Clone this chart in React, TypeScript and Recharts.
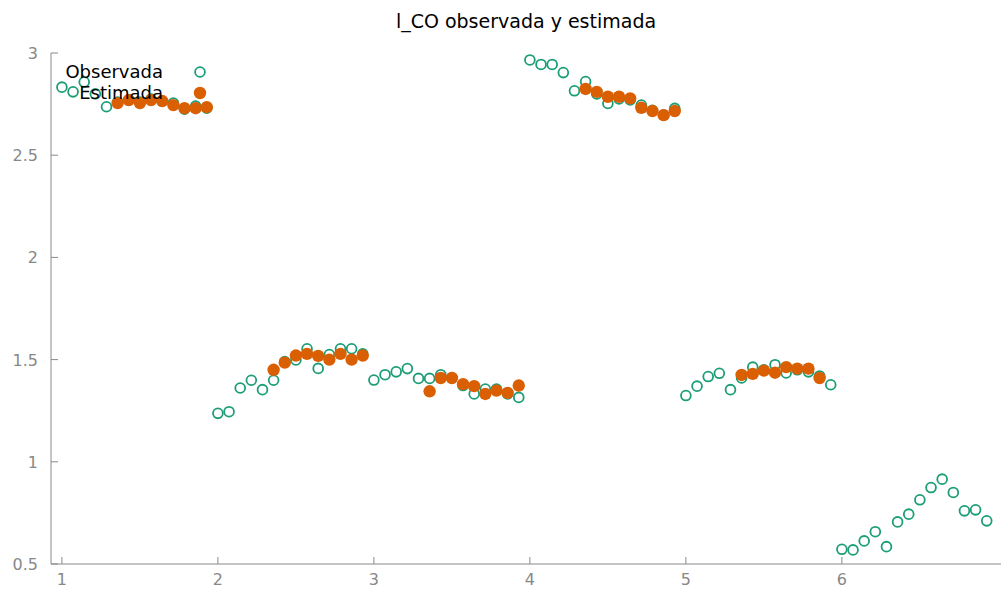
import React from "react";
import { ScatterChart, Scatter, XAxis, YAxis } from "recharts";

// panel units 1..6, 14 periods each
const units = [1, 2, 3, 4, 5, 6];
const periods = 14;

const observed1 = [2.833, 2.81, 2.858, 2.8, 2.737, 2.76, 2.77, 2.76, 2.775, 2.765, 2.755, 2.725, 2.74, 2.73];
const observed2 = [1.237, 1.245, 1.361, 1.399, 1.353, 1.399, 1.49, 1.498, 1.553, 1.457, 1.525, 1.553, 1.553, 1.528];
const observed3 = [1.4, 1.426, 1.44, 1.456, 1.408, 1.408, 1.426, 1.41, 1.373, 1.332, 1.356, 1.356, 1.332, 1.315];
const observed4 = [2.966, 2.944, 2.944, 2.904, 2.815, 2.86, 2.8, 2.753, 2.775, 2.77, 2.745, 2.72, 2.696, 2.729];
const observed5 = [1.324, 1.37, 1.417, 1.433, 1.353, 1.41, 1.463, 1.45, 1.475, 1.435, 1.45, 1.44, 1.42, 1.377];
const observed6 = [0.572, 0.569, 0.613, 0.658, 0.585, 0.706, 0.744, 0.814, 0.874, 0.915, 0.85, 0.76, 0.765, 0.711];

const estimated1 = [null, null, null, null, null, 2.755, 2.77, 2.755, 2.77, 2.765, 2.745, 2.73, 2.73, 2.735];
const estimated2 = [null, null, null, null, null, 1.45, 1.485, 1.52, 1.528, 1.518, 1.5, 1.528, 1.5, 1.52];
const estimated3 = [null, null, null, null, null, 1.345, 1.41, 1.41, 1.38, 1.37, 1.332, 1.348, 1.337, 1.373];
const estimated4 = [null, null, null, null, null, 2.824, 2.81, 2.786, 2.786, 2.778, 2.732, 2.716, 2.696, 2.716];
const estimated5 = [null, null, null, null, null, 1.425, 1.43, 1.446, 1.436, 1.463, 1.456, 1.456, 1.41, null];
const estimated6: (number | null)[] = [];

const yTicks = [0.5, 1, 1.5, 2, 2.5, 3];
const xTicks = [1, 2, 3, 4, 5, 6];

const toPoints = (series: (number | null)[][]) =>
  series.flatMap((vals, g) =>
    vals
      .map((v, t) => ({ x: units[g] + t / periods, y: v }))
      .filter((p) => p.y !== null)
  );

const obsData = toPoints([observed1, observed2, observed3, observed4, observed5, observed6]);
const estData = toPoints([estimated1, estimated2, estimated3, estimated4, estimated5, estimated6]);

const GREEN = "#1b9e77";
const ORANGE = "#d95f02";
const AXIS = "#8a8a8a";
const FONT = "'DejaVu Sans', Verdana, sans-serif";

const YTick = ({ x, y, payload }: any) => (
  <g>
    <line x1={x} x2={x + 7} y1={y} y2={y} stroke={AXIS} />
    <text x={x - 13} y={y} dy={6} textAnchor="end" fill="#888" fontSize={16} fontFamily={FONT}>
      {payload.value}
    </text>
  </g>
);

const XTick = ({ x, y, payload }: any) => (
  <g>
    <line x1={x} x2={x} y1={y} y2={y - 7} stroke={AXIS} />
    <text x={x} y={y + 21} textAnchor="middle" fill="#888" fontSize={16} fontFamily={FONT}>
      {payload.value}
    </text>
  </g>
);

const HollowDot = (props: any) => (
  <circle cx={props.cx} cy={props.cy} r={4.9} fill="none" stroke={GREEN} strokeWidth={1.8} />
);

const FilledDot = (props: any) => (
  <circle cx={props.cx} cy={props.cy} r={6.2} fill={ORANGE} />
);

export default function App() {
  return (
    <div style={{ position: "fixed", left: 0, top: 0, width: 1002, height: 590, background: "#fff" }}>
      <ScatterChart width={1002} height={590} margin={{ top: 53, right: 1, bottom: 0, left: 0 }}>
        <XAxis
          type="number"
          dataKey="x"
          domain={[0.93, 7.02]}
          ticks={xTicks}
          height={26}
          tickSize={0}
          tickMargin={0}
          tickLine={false}
          axisLine={{ stroke: AXIS }}
          tick={<XTick />}
          allowDataOverflow
        />
        <YAxis
          type="number"
          dataKey="y"
          domain={[0.5, 3]}
          ticks={yTicks}
          width={51}
          tickSize={0}
          tickMargin={0}
          tickLine={false}
          axisLine={{ stroke: AXIS }}
          tick={<YTick />}
          allowDataOverflow
        />
        <Scatter name="Observada" data={obsData} shape={<HollowDot />} isAnimationActive={false} />
        <Scatter name="Estimada" data={estData} shape={<FilledDot />} isAnimationActive={false} />
      </ScatterChart>
      {/* title and key drawn over the plot, gnuplot style */}
      <svg width={1002} height={590} style={{ position: "absolute", left: 0, top: 0, pointerEvents: "none" }}>
        <text x={526} y={28} textAnchor="middle" fontSize={19} fontFamily={FONT} fill="#000">
          l_CO observada y estimada
        </text>
        <text x={163} y={78} textAnchor="end" fontSize={18} fontFamily={FONT} fill="#000">Observada</text>
        <circle cx={200} cy={72} r={4.9} fill="none" stroke={GREEN} strokeWidth={1.8} />
        <text x={163} y={99} textAnchor="end" fontSize={18} fontFamily={FONT} fill="#000">Estimada</text>
        <circle cx={200} cy={93} r={6.2} fill={ORANGE} />
      </svg>
    </div>
  );
}
